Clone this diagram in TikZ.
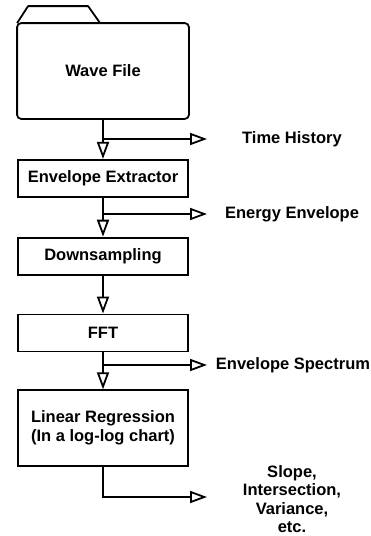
\documentclass[tikz,border=0pt]{standalone}
\usepackage{fontspec}
\setmainfont{Liberation Sans}
\usetikzlibrary{arrows.meta, positioning}
\tikzset{
	stage/.style = {rectangle, draw, line width=1.8pt, minimum width=170pt, minimum height=37pt, align=center, font=\bfseries\fontsize{16.5}{19}\selectfont},
	output/.style = {align=center, font=\bfseries\fontsize{16.5}{18.5}\selectfont},
	flow/.style = {draw, line width=1.8pt, -{Triangle[open, length=17pt, width=12pt, line width=1.8pt]}}
}

\begin{document}
\begin{tikzpicture}[x=1pt, y=1pt]
	\useasboundingbox (0,0) rectangle (371,-536);

	\node[stage, draw=none, minimum height=94pt] (wave) at (103,-71) {Wave File};
	\draw[line width=1.8pt, rounded corners=4pt] (wave.south west) -- (wave.north west) -- (wave.north east) -- (wave.south east) -- cycle;
	\draw[line width=1.8pt, line join=round] (wave.north west) -- ++(11,17) -- ++(60,0) -- ++(12,-17);

	\node[stage, below=40pt of wave] (extractor) {Envelope Extractor};
	\node[stage, below=39pt of extractor] (downsample) {Downsampling};
	\node[stage, below=38pt of downsample] (fft) {FFT};
	\node[stage, minimum height=76pt, below=37pt of fft] (regression) {Linear Regression\\(In a log-log chart)};

	\node[output] (timehist) at (292,-139) {Time History};
	\node[output] (energy) at (292,-214) {Energy Envelope};
	\node[output] (spectrum) at (293,-365) {Envelope Spectrum};
	\node[output] (results) at (292,-499) {Slope,\\Intersection,\\Variance,\\etc.};

	\coordinate (timetip) at (207,-139);
	\coordinate (energytip) at (207,-214);
	\coordinate (spectrumtip) at (207,-365);
	\coordinate (resultstip) at (207,-497);

	\path [flow] (wave) -- (extractor);
	\path [flow] (extractor) -- (downsample);
	\path [flow] (downsample) -- (fft);
	\path [flow] (fft) -- (regression);

	\path [flow] (wave.south |- timetip) -- (timetip);
	\path [flow] (extractor.south |- energytip) -- (energytip);
	\path [flow] (fft.south |- spectrumtip) -- (spectrumtip);
	\path [flow] (regression.south) |- (resultstip);
\end{tikzpicture}
\end{document}
